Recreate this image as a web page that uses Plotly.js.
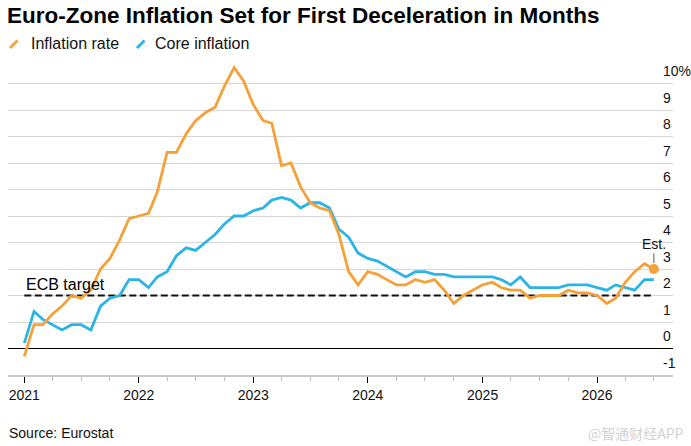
<!DOCTYPE html>
<html>
<head>
<meta charset="utf-8">
<script src="https://cdn.plot.ly/plotly-3.0.1.min.js"></script>
<style>
  html, body { margin: 0; padding: 0; background: #fff; }
  #chart { width: 691px; height: 446px; }
</style>
</head>
<body>
<div id="chart"></div>
<script>
// ---- Data ----
const months = [
  "2020-12",
  "2021-01","2021-02","2021-03","2021-04","2021-05","2021-06","2021-07","2021-08","2021-09","2021-10","2021-11","2021-12",
  "2022-01","2022-02","2022-03","2022-04","2022-05","2022-06","2022-07","2022-08","2022-09","2022-10","2022-11","2022-12",
  "2023-01","2023-02","2023-03","2023-04","2023-05","2023-06","2023-07","2023-08","2023-09","2023-10","2023-11","2023-12",
  "2024-01","2024-02","2024-03","2024-04","2024-05","2024-06","2024-07","2024-08","2024-09","2024-10","2024-11","2024-12",
  "2025-01","2025-02","2025-03","2025-04","2025-05","2025-06","2025-07","2025-08","2025-09","2025-10","2025-11","2025-12",
  "2026-01","2026-02","2026-03","2026-04","2026-05","2026-06"
];
const inflationRate = [
  -0.3,
  0.9, 0.9, 1.3, 1.6, 2.0, 1.9, 2.2, 3.0, 3.4, 4.1, 4.9, 5.0,
  5.1, 5.9, 7.4, 7.4, 8.1, 8.6, 8.9, 9.1, 9.9, 10.6, 10.1, 9.2,
  8.6, 8.5, 6.9, 7.0, 6.1, 5.5, 5.3, 5.2, 4.3, 2.9, 2.4, 2.9,
  2.8, 2.6, 2.4, 2.4, 2.6, 2.5, 2.6, 2.2, 1.7, 2.0, 2.2, 2.4,
  2.5, 2.3, 2.2, 2.2, 1.9, 2.0, 2.0, 2.0, 2.2, 2.1, 2.1, 2.0,
  1.7, 1.9, 2.5, 2.9, 3.2, 3.0
];
const coreInflation = [
  0.2,
  1.4, 1.1, 0.9, 0.7, 0.9, 0.9, 0.7, 1.6, 1.9, 2.0, 2.6, 2.6,
  2.3, 2.7, 2.9, 3.5, 3.8, 3.7, 4.0, 4.3, 4.7, 5.0, 5.0, 5.2,
  5.3, 5.6, 5.7, 5.6, 5.3, 5.5, 5.5, 5.3, 4.5, 4.2, 3.6, 3.4,
  3.3, 3.1, 2.9, 2.7, 2.9, 2.9, 2.8, 2.8, 2.7, 2.7, 2.7, 2.7,
  2.7, 2.6, 2.4, 2.7, 2.3, 2.3, 2.3, 2.3, 2.4, 2.4, 2.4, 2.3,
  2.2, 2.4, 2.3, 2.2, 2.6, 2.6
];
const ecbTarget = 2;
const yTickVals = [-1, 0, 1, 2, 3, 4, 5, 6, 7, 8, 9, 10];
const yTickText = ["-1", "0", "1", "2", "3", "4", "5", "6", "7", "8", "9", "10%"];
const seriesNames = ["Inflation rate", "Core inflation"];
const titleText = "Euro-Zone Inflation Set for First Deceleration in Months";
const sourceText = "Source: Eurostat";
const targetLabel = "ECB target";
const estLabel = "Est.";
const watermark = "@智通财经APP";

// ---- Styling ----
const ORANGE = "#F5A13A";
const BLUE = "#2DB4E6";
const FONT = "Liberation Sans, Arial, Helvetica, sans-serif";
const W = 691, H = 446;
const M = { l: 8, r: 18, t: 57, b: 71 };
const PW = W - M.l - M.r, PH = H - M.t - M.b;
const px = v => (v - M.l) / PW;          // pixel x -> paper x
const py = v => (H - M.b - v) / PH;      // pixel y -> paper y

const last = months.length - 1;

const traces = [
  {
    x: [months[0], months[last]], y: [ecbTarget, ecbTarget],
    xperiod: "M1", xperiodalignment: "end",
    mode: "lines", line: { color: "#111", width: 2.2, dash: "7px,3.5px" },
    hoverinfo: "skip", showlegend: false
  },
  {
    name: seriesNames[1], x: months, y: coreInflation,
    xperiod: "M1", xperiodalignment: "end",
    mode: "lines", line: { color: BLUE, width: 2.8 }, showlegend: false
  },
  {
    name: seriesNames[0], x: months, y: inflationRate,
    xperiod: "M1", xperiodalignment: "end",
    mode: "lines", line: { color: ORANGE, width: 2.8 }, showlegend: false
  },
  {
    x: [months[last]], y: [inflationRate[last]],
    xperiod: "M1", xperiodalignment: "end",
    mode: "markers", marker: { color: ORANGE, size: 10 },
    hoverinfo: "skip", showlegend: false
  }
];

const layout = {
  width: W, height: H,
  margin: M,
  paper_bgcolor: "#fff", plot_bgcolor: "#fff",
  font: { family: FONT, color: "#111" },
  showlegend: false,
  title: {
    text: titleText,
    xref: "container", yref: "container",
    x: 7 / W, xanchor: "left",
    y: 1 - 15 / H, yanchor: "middle",
    font: { family: FONT, size: 22.5, weight: 700, color: "#000" }
  },
  xaxis: {
    type: "date",
    range: ["2020-11-10", "2026-08-31"],
    tick0: "2021-01-01", dtick: "M12", tickformat: "%Y",
    ticks: "outside", ticklen: 6, tickwidth: 1, tickcolor: "#000",
    minor: { tick0: "2021-01-01", dtick: "M3", ticks: "outside", ticklen: 4, tickwidth: 1, tickcolor: "#bdbdbd", showgrid: false },
    showgrid: false, zeroline: false,
    showline: true, linecolor: "#c9c9c9", linewidth: 2,
    tickfont: { family: FONT, size: 14, color: "#111" },
    fixedrange: true
  },
  yaxis: {
    side: "right",
    range: [-1, 11],
    tickmode: "array", tickvals: yTickVals, ticktext: yTickText,
    ticks: "",
    ticklabelshift: -12, ticklabelstandoff: -11,
    showgrid: true, gridcolor: "#d6d6d6", gridwidth: 1,
    zeroline: true, zerolinecolor: "#000", zerolinewidth: 1.3,
    showline: false,
    tickfont: { family: FONT, size: 14, color: "#111" },
    fixedrange: true
  },
  shapes: [
    { type: "line", xref: "paper", yref: "paper", x0: px(10), y0: py(48), x1: px(17.5), y1: py(40.5),
      line: { color: ORANGE, width: 3 } },
    { type: "line", xref: "paper", yref: "paper", x0: px(137), y0: py(48), x1: px(144.5), y1: py(40.5),
      line: { color: BLUE, width: 3 } }
  ],
  annotations: [
    { text: seriesNames[0], xref: "paper", yref: "paper", x: px(29), y: py(43.5),
      xanchor: "left", yanchor: "middle", showarrow: false,
      font: { family: FONT, size: 16, color: "#111" } },
    { text: seriesNames[1], xref: "paper", yref: "paper", x: px(153), y: py(43.5),
      xanchor: "left", yanchor: "middle", showarrow: false,
      font: { family: FONT, size: 16, color: "#111" } },
    { text: targetLabel, xref: "x", yref: "y", x: "2021-01-01", y: ecbTarget,
      xanchor: "left", yanchor: "bottom", yshift: 1, showarrow: false,
      font: { family: FONT, size: 16, color: "#000" } },
    { text: estLabel, xref: "x", yref: "y", x: "2026-07-01", y: inflationRate[last],
      showarrow: true, arrowhead: 0, arrowwidth: 1, arrowcolor: "#555", ax: 0, ay: -25, standoff: 6,
      font: { family: FONT, size: 14, color: "#111" } },
    { text: sourceText, xref: "paper", yref: "paper", x: px(7), y: py(433),
      xanchor: "left", yanchor: "middle", showarrow: false,
      font: { family: FONT, size: 14, color: "#111" } },
    { text: watermark, xref: "paper", yref: "paper", x: px(686), y: py(433),
      xanchor: "right", yanchor: "middle", showarrow: false,
      font: { family: "Noto Sans CJK SC, sans-serif", size: 14, color: "#d2d2d2" } }
  ]
};

Plotly.newPlot("chart", traces, layout, { staticPlot: true, displayModeBar: false });
</script>
</body>
</html>
